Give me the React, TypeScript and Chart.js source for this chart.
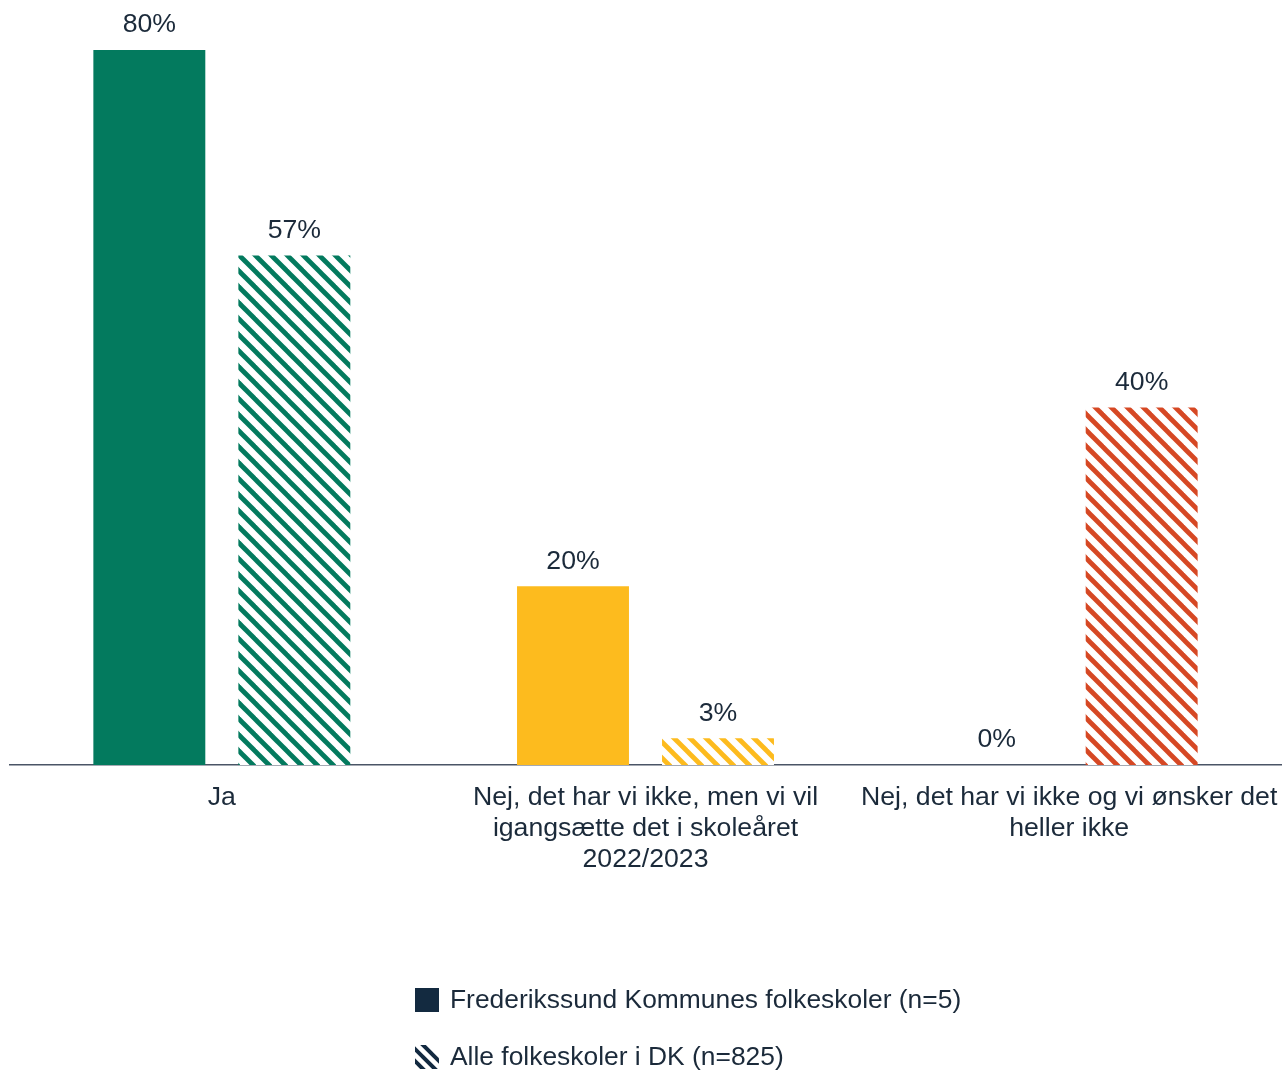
import React, { useEffect, useRef } from 'react';
import { Chart, registerables } from 'chart.js';
Chart.register(...registerables);

const categories: (string | string[])[] = [
  'Ja',
  ['Nej, det har vi ikke, men vi vil', 'igangsætte det i skoleåret', '2022/2023'],
  ['Nej, det har vi ikke og vi ønsker det', 'heller ikke'],
];
const kommuneValues = [80, 20, 0];
const dkValues = [57, 3, 40];
const seriesNames = ['Frederikssund Kommunes folkeskoler (n=5)', 'Alle folkeskoler i DK (n=825)'];
const categoryColors = ['#037A5E', '#FDBB1E', '#D64824'];

const TEXT = '#1B2A3A';
const NAVY = '#132A40';
const FONT = 'Arial, "Liberation Sans", sans-serif';
const FS = 26.67;
const LEGEND_FS = 26.4;

function makeHatch(color: string): CanvasPattern {
  const s = 16;
  const c = document.createElement('canvas');
  c.width = s;
  c.height = s;
  const g = c.getContext('2d')!;
  g.fillStyle = '#ffffff';
  g.fillRect(0, 0, s, s);
  g.strokeStyle = color;
  g.lineWidth = 4.8;
  for (const o of [-s, 0, s]) {
    g.beginPath();
    g.moveTo(o - 4, -4);
    g.lineTo(o + s + 4, s + 4);
    g.stroke();
  }
  return g.createPattern(c, 'repeat')!;
}

const overlayPlugin = {
  id: 'overlay',
  afterDraw(chart: any) {
    const ctx: CanvasRenderingContext2D = chart.ctx;
    ctx.save();
    // value labels
    ctx.font = `${FS}px ${FONT}`;
    ctx.fillStyle = TEXT;
    ctx.textAlign = 'center';
    ctx.textBaseline = 'middle';
    chart.data.datasets.forEach((ds: any, i: number) => {
      const meta = chart.getDatasetMeta(i);
      meta.data.forEach((bar: any, j: number) => {
        ctx.fillText(`${ds.data[j]}%`, bar.x, bar.y - 25);
      });
    });
    // legend
    const lx = 415;
    const rows = [1000, 1057];
    ctx.fillStyle = NAVY;
    ctx.fillRect(lx, rows[0] - 12, 24, 24);
    ctx.save();
    ctx.beginPath();
    ctx.rect(lx, rows[1] - 12, 24, 24);
    ctx.clip();
    ctx.strokeStyle = NAVY;
    ctx.lineWidth = 4;
    for (const o of [-16, -4, 8]) {
      ctx.beginPath();
      ctx.moveTo(lx + o - 2, rows[1] - 14);
      ctx.lineTo(lx + o + 26, rows[1] + 14);
      ctx.stroke();
    }
    ctx.restore();
    ctx.fillStyle = TEXT;
    ctx.textAlign = 'left';
    ctx.font = `${LEGEND_FS}px ${FONT}`;
    seriesNames.forEach((name, k) => {
      ctx.fillText(name, lx + 35, rows[k] + 1);
    });
    ctx.restore();
  },
};

export default function App() {
  const ref = useRef<HTMLCanvasElement>(null);
  useEffect(() => {
    if (!ref.current) return;
    const chart = new Chart(ref.current, {
      type: 'bar',
      data: {
        labels: categories,
        datasets: [
          {
            label: seriesNames[0],
            data: kommuneValues,
            backgroundColor: categoryColors,
            borderWidth: 0,
          },
          {
            label: seriesNames[1],
            data: dkValues,
            backgroundColor: categoryColors.map((c) => makeHatch(c)),
            borderWidth: 0,
          },
        ],
      },
      options: {
        animation: false,
        responsive: true,
        maintainAspectRatio: false,
        datasets: { bar: { categoryPercentage: 0.6845, barPercentage: 0.772 } },
        layout: { padding: { top: 50, left: 10, right: 4, bottom: 156 } },
        plugins: { legend: { display: false }, tooltip: { enabled: false }, title: { display: false } },
        scales: {
          y: { display: false, min: 0, max: 80 },
          x: {
            grid: { display: false, drawTicks: false },
            border: { display: true, color: '#4A5566', width: 1.5 },
            ticks: {
              color: TEXT,
              font: { family: FONT, size: FS, lineHeight: 1.17 },
              padding: 17,
              maxRotation: 0,
              minRotation: 0,
              autoSkip: false,
            },
            afterFit(scale: any) {
              scale.height = 150;
              scale.paddingLeft = 0;
              scale.paddingRight = 0;
            },
          },
        },
      } as any,
      plugins: [overlayPlugin],
    });
    return () => chart.destroy();
  }, []);
  return (
    <div style={{ position: 'absolute', left: 0, top: 0, width: 1285, height: 1071, background: '#fff' }}>
      <canvas ref={ref} />
    </div>
  );
}
